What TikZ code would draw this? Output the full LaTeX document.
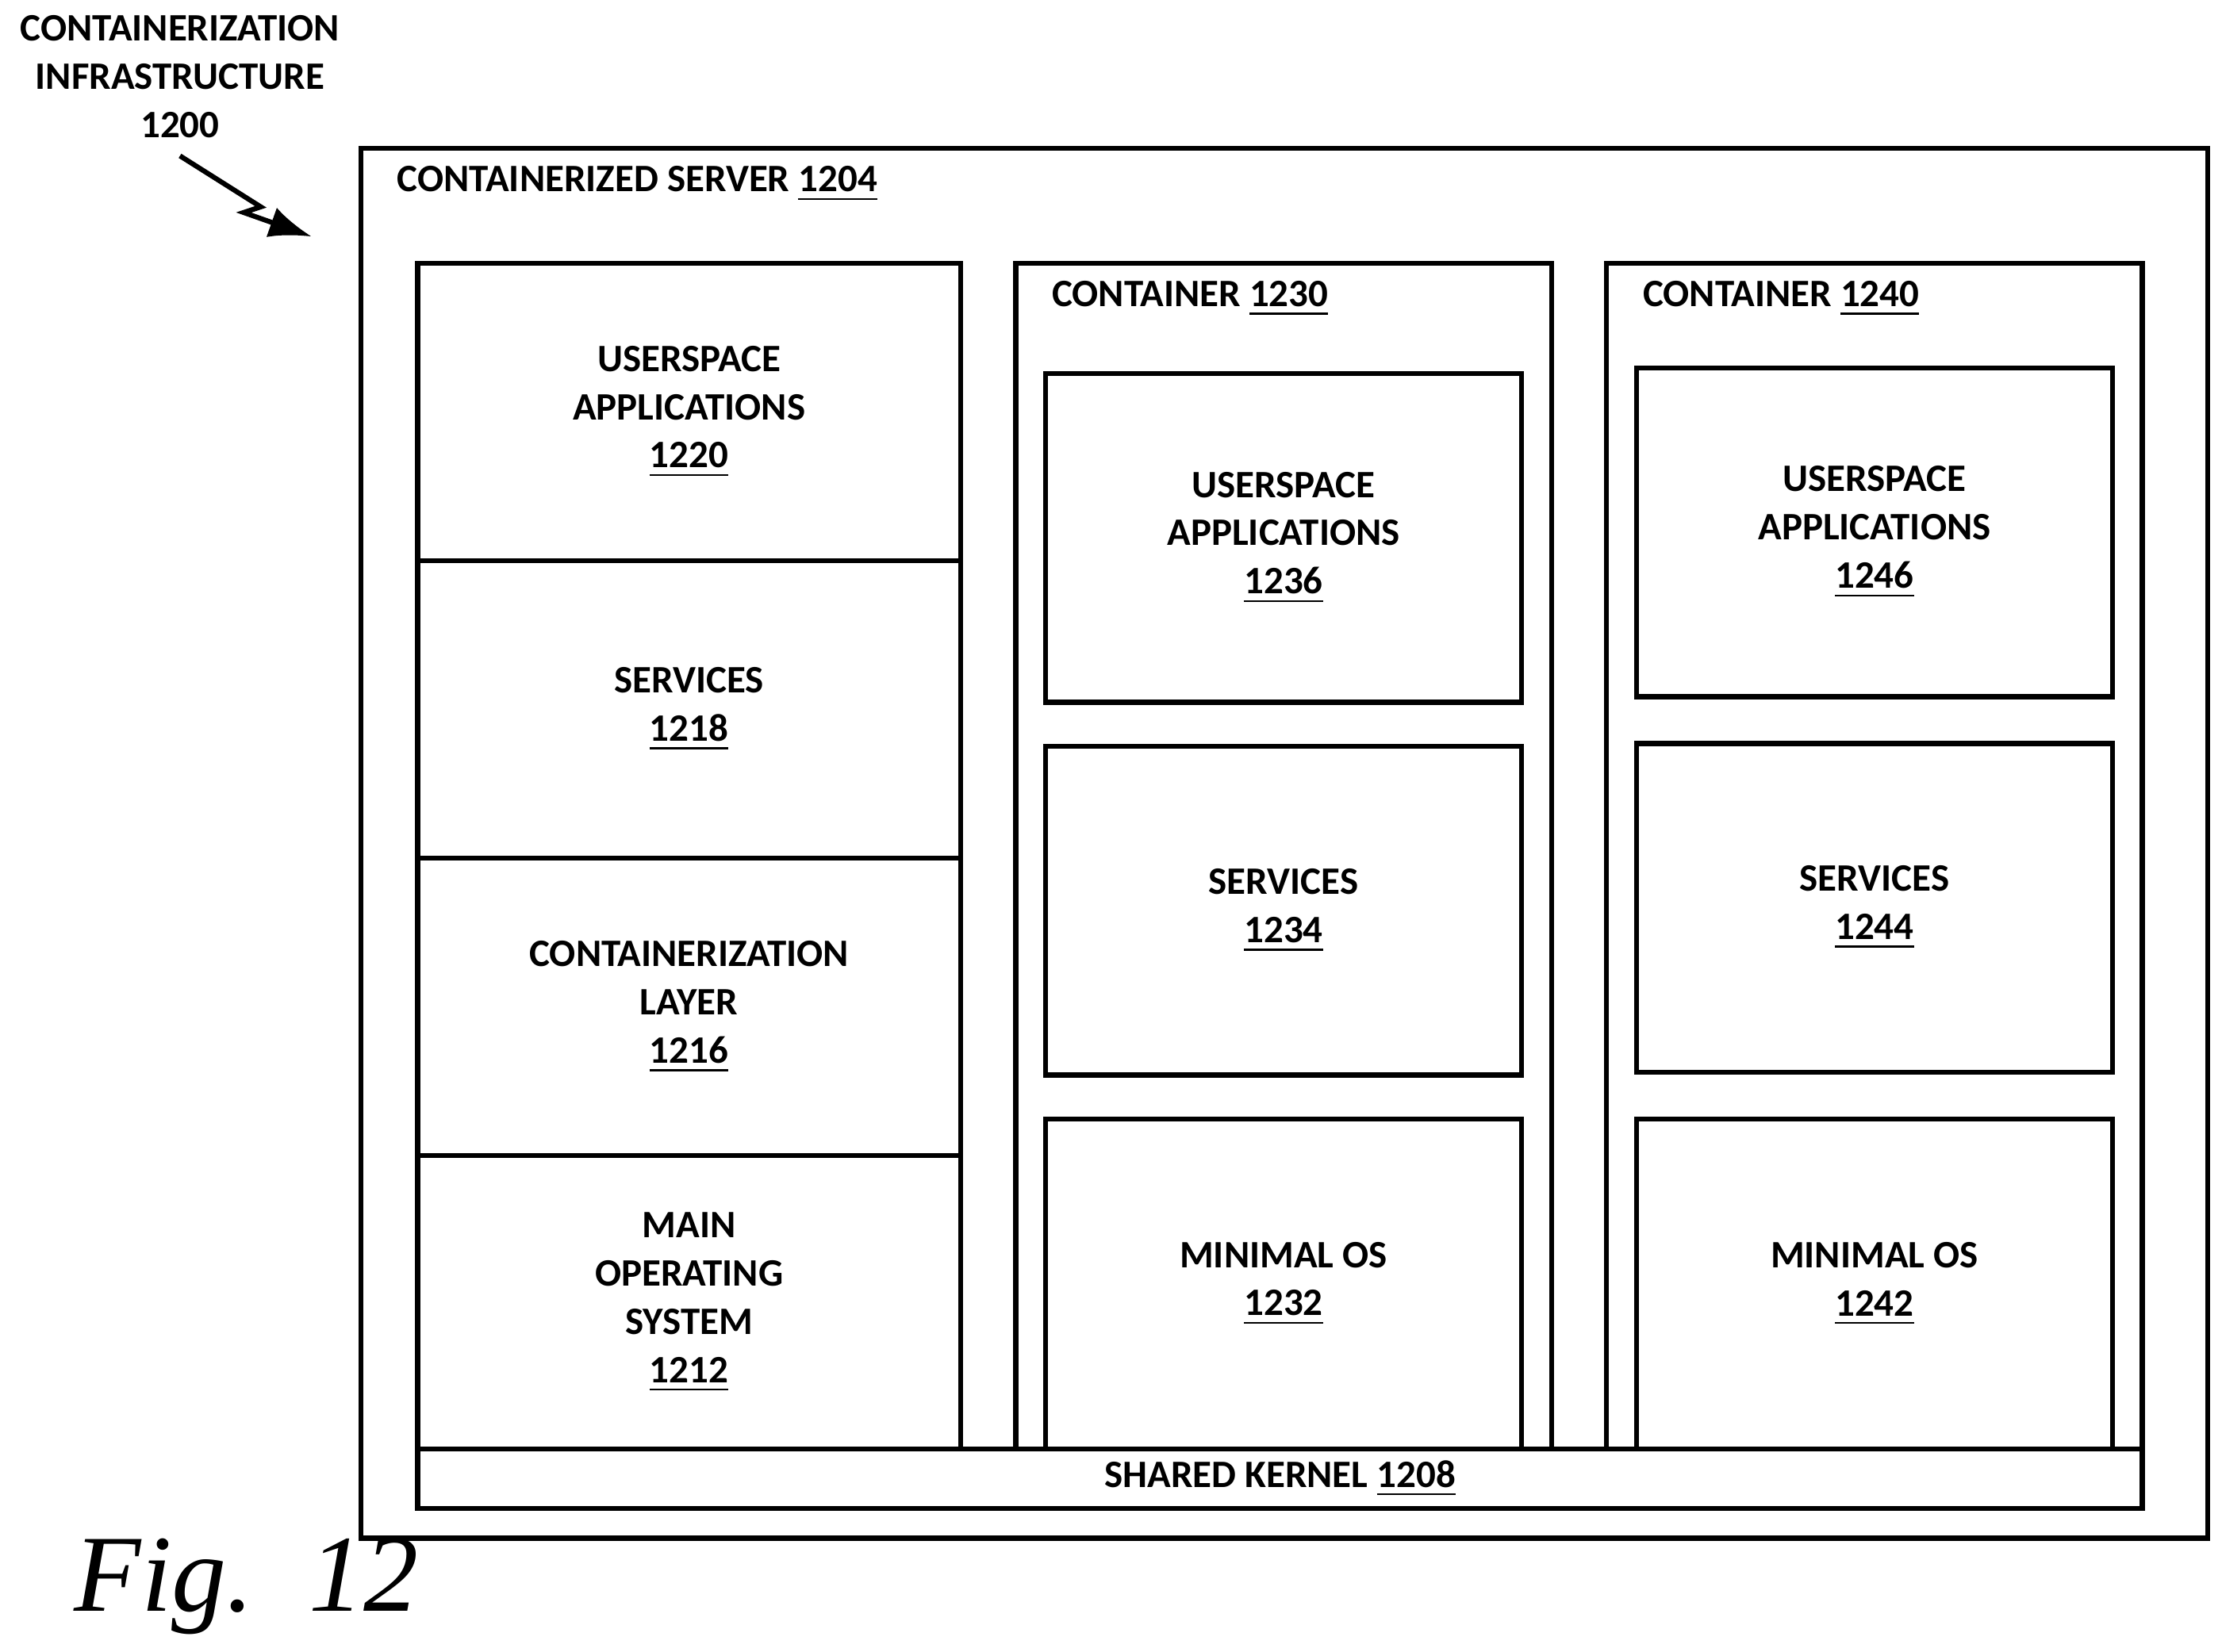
\documentclass[tikz,border=0pt]{standalone}
\usepackage{fontspec}
\setmainfont{Carlito}
\newfontfamily\figfont{Liberation Serif}
\usetikzlibrary{arrows.meta}
\tikzset{
  box/.style={draw,line width=1pt,anchor=north west,inner sep=0pt,align=center,
    font=\fontsize{7.8}{9.7}\selectfont\bfseries},
  lbl/.style={font=\fontsize{7.8}{9.7}\selectfont\bfseries,align=center}
}
\newcommand{\bx}[6]{% name, x1, y1, x2, y2, text
  \node[box,minimum width=#4cm-#2cm,minimum height=#5cm-#3cm] (#1) at (#2,-#3) {#6};}
\begin{document}
\begin{tikzpicture}
\useasboundingbox (0,0) rectangle (15.68,-11.66);
% server
\node[draw,line width=1pt,minimum width=13.03cm,minimum height=9.81cm,anchor=north west] (srv) at (2.53,-1.03) {};
\node[lbl,anchor=west] (srvt) at (2.68,-1.30) {CONTAINERIZED SERVER \underline{1204}};
% host stack
\bx{ua}{2.93}{1.84}{6.76}{3.94}{USERSPACE\\APPLICATIONS\\\underline{1220}}
\bx{sv}{2.93}{3.94}{6.76}{6.04}{SERVICES\\\underline{1218}}
\bx{cl}{2.93}{6.04}{6.76}{8.14}{CONTAINERIZATION\\LAYER\\\underline{1216}}
\bx{os}{2.93}{8.14}{6.76}{10.21}{MAIN\\OPERATING\\SYSTEM\\\underline{1212}}
% container 1230
\bx{ca}{7.15}{1.84}{10.93}{10.21}{}
\node[lbl,anchor=west] (cat) at (7.30,-2.11) {CONTAINER \underline{1230}};
\bx{caua}{7.36}{2.62}{10.72}{4.94}{USERSPACE\\APPLICATIONS\\\underline{1236}}
\bx{casv}{7.36}{5.25}{10.72}{7.57}{SERVICES\\\underline{1234}}
\bx{caos}{7.36}{7.88}{10.72}{10.21}{MINIMAL OS\\\underline{1232}}
% container 1240
\bx{cb}{11.32}{1.84}{15.10}{10.21}{}
\node[lbl,anchor=west] (cbt) at (11.47,-2.11) {CONTAINER \underline{1240}};
\bx{cbua}{11.53}{2.58}{14.89}{4.90}{USERSPACE\\APPLICATIONS\\\underline{1246}}
\bx{cbsv}{11.53}{5.23}{14.89}{7.55}{SERVICES\\\underline{1244}}
\bx{cbos}{11.53}{7.88}{14.89}{10.21}{MINIMAL OS\\\underline{1242}}
% kernel
\bx{kn}{2.93}{10.21}{15.10}{10.63}{SHARED KERNEL \underline{1208}}
% reference label
\node[lbl] (ref) at (1.27,-0.54) {CONTAINERIZATION\\INFRASTRUCTURE\\1200};
\coordinate (r1) at (1.27,-1.10);
\coordinate (r2) at (1.84,-1.46);
\coordinate (r3) at (1.72,-1.50);
\coordinate (r4) at (2.20,-1.67);
\draw[line width=1pt,-{Latex[length=3mm,width=2.2mm]}] (r1) -- (r2) -- (r3) -- (r4);
\node[font=\figfont\itshape\fontsize{22}{24}\selectfont,anchor=west] (fig) at (0.40,-11.20) {Fig.\ \ 12};
\end{tikzpicture}
\end{document}
